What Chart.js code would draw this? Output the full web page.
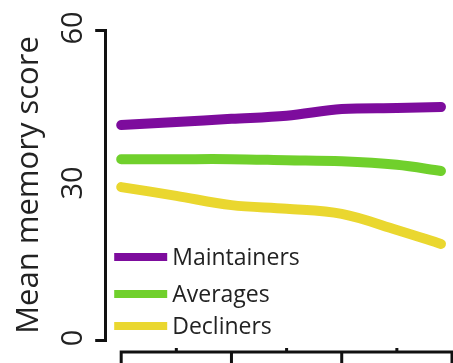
<!DOCTYPE html>
<html>
<head>
<meta charset="utf-8">
<script src="https://cdn.jsdelivr.net/npm/chart.js@4/dist/chart.umd.min.js"></script>
<style>
html, body { margin:0; padding:0; background:#fff; }
#wrap { width:453px; height:363px; }
</style>
</head>
<body>
<div id="wrap"><canvas id="canvas" width="453" height="363"></canvas></div>
<script>
// values
var timePoints = [0, 1, 2, 3, 4, 5, 5.8];
var maintainers = [41.6, 42.2, 42.8, 43.4, 44.7, 44.9, 45.1];
var averages = [35.0, 35.0, 35.0, 34.8, 34.6, 33.9, 32.7];
var decliners = [29.6, 27.9, 26.1, 25.4, 24.4, 21.3, 18.6];
var seriesNames = ['Maintainers', 'Averages', 'Decliners'];
var seriesColors = ['#7d0c9d', '#70d02c', '#ead72f'];
var yTicks = [0, 30, 60];
var xMajorTicks = [0, 2, 4, 6];
var xMinorTicks = [1, 3, 5];
var yTitle = 'Mean memory score';

var fontFam = '"Open Sans", "DejaVu Sans", sans-serif';

function pairs(vals) {
    return vals.map(function(v, i) { return {x: timePoints[i], y: v}; });
}

var allSeries = [maintainers, averages, decliners];
var datasets = allSeries.map(function(vals, i) {
    return {
        label: seriesNames[i],
        data: pairs(vals),
        borderColor: seriesColors[i],
        backgroundColor: seriesColors[i],
        borderWidth: 10,
        borderCapStyle: 'round',
        borderJoinStyle: 'round',
        pointRadius: 0,
        tension: 0.35,
        fill: false
    };
});

// rotated y tick labels, the detached x axis and the legend are drawn here
var offsetAxisAndLegend = {
    id: 'offsetAxisAndLegend',
    afterDraw: function(chart) {
        var ctx = chart.ctx;
        var ca = chart.chartArea;
        var xs = chart.scales.x;
        var ys = chart.scales.y;
        ctx.save();

        // y tick labels, reading bottom to top
        ctx.fillStyle = '#222';
        ctx.font = '29px ' + fontFam;
        ctx.textAlign = 'center';
        ctx.textBaseline = 'middle';
        yTicks.forEach(function(v) {
            ctx.save();
            ctx.translate(ca.left - 31, ys.getPixelForValue(v) - 2);
            ctx.rotate(-Math.PI / 2);
            ctx.fillText(String(v), 0, 0);
            ctx.restore();
        });

        var yLine = ca.bottom + 12;
        ctx.strokeStyle = '#111';
        ctx.lineWidth = 3;
        ctx.lineCap = 'butt';
        ctx.beginPath();
        ctx.moveTo(xs.getPixelForValue(xMajorTicks[0]) - 1.5, yLine);
        ctx.lineTo(xs.getPixelForValue(xMajorTicks[xMajorTicks.length - 1]) + 1.5, yLine);
        xMajorTicks.forEach(function(v) {
            var px = xs.getPixelForValue(v);
            ctx.moveTo(px, yLine);
            ctx.lineTo(px, yLine + 16);
        });
        xMinorTicks.forEach(function(v) {
            var px = xs.getPixelForValue(v);
            ctx.moveTo(px, yLine);
            ctx.lineTo(px, yLine - 4);
        });
        ctx.stroke();

        // legend, inside the plot at the lower left
        var rowOffsets = [83, 46, 14];
        ctx.font = '23px ' + fontFam;
        ctx.textBaseline = 'middle';
        ctx.textAlign = 'left';
        chart.data.datasets.forEach(function(ds, i) {
            var y = ca.bottom - rowOffsets[i];
            ctx.strokeStyle = ds.borderColor;
            ctx.lineWidth = 8;
            ctx.beginPath();
            ctx.moveTo(ca.left + 9, y);
            ctx.lineTo(ca.left + 62, y);
            ctx.stroke();
            ctx.fillStyle = '#222';
            ctx.fillText(ds.label, ca.left + 67, y + 1);
        });
        ctx.restore();
    }
};

var chart = new Chart(document.getElementById('canvas').getContext('2d'), {
    type: 'line',
    data: {datasets: datasets},
    options: {
        responsive: false,
        animation: false,
        devicePixelRatio: 1,
        layout: {padding: {left: 11, top: 30, right: 1, bottom: 23}},
        plugins: {legend: {display: false}, tooltip: {enabled: false}},
        scales: {
            x: {
                type: 'linear',
                min: -0.29,
                max: 6,
                display: false
            },
            y: {
                min: 0,
                max: 60,
                afterBuildTicks: function(scale) {
                    scale.ticks = yTicks.map(function(v) { return {value: v}; });
                },
                ticks: {display: false},
                grid: {
                    drawOnChartArea: false,
                    tickLength: 10,
                    lineWidth: 3,
                    color: function(c) {
                        return (c.tick && c.tick.value === 30) ? 'rgba(0,0,0,0)' : '#111';
                    }
                },
                border: {color: '#111', width: 3},
                title: {
                    display: true,
                    text: yTitle,
                    font: {family: fontFam, size: 31},
                    color: '#222',
                    padding: {top: 0, bottom: 47}
                }
            }
        }
    },
    plugins: [offsetAxisAndLegend]
});
</script>
</body>
</html>
